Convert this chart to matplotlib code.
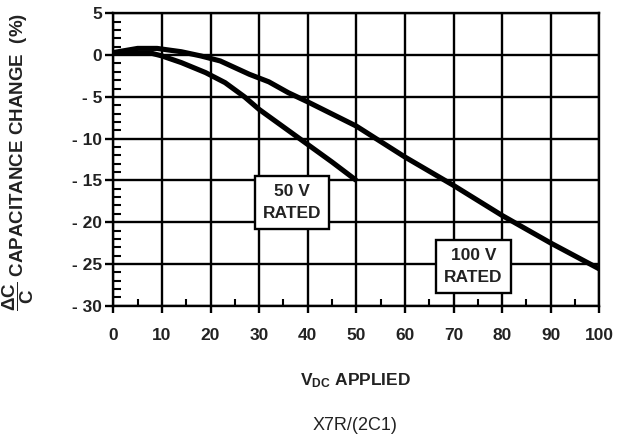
import numpy as np
import matplotlib
matplotlib.use("Agg")
import matplotlib.pyplot as plt
from matplotlib.ticker import FixedLocator, MultipleLocator

plt.rcParams['font.family'] = ['Liberation Sans', 'DejaVu Sans']
plt.rcParams['mathtext.fontset'] = 'custom'
plt.rcParams['mathtext.rm'] = 'Liberation Sans:bold'
plt.rcParams['mathtext.it'] = 'Liberation Sans:bold'
plt.rcParams['mathtext.bf'] = 'Liberation Sans:bold'

# данные
v_50 = [0, 8, 10, 14, 19, 23, 27, 30, 35, 40, 45, 50]
c_50 = [0.2, 0.2, -0.1, -0.9, -2.1, -3.3, -5.0, -6.5, -8.6, -10.7, -12.8, -15.0]

v_100 = [0, 5, 9, 14, 18, 22, 28, 32, 36, 40, 50, 60, 70, 80, 90, 100]
c_100 = [0.3, 0.8, 0.8, 0.4, -0.1, -0.7, -2.3, -3.2, -4.5, -5.6, -8.5, -12.2, -15.6, -19.2, -22.5, -25.6]

x_ticks = [0, 10, 20, 30, 40, 50, 60, 70, 80, 90, 100]
y_ticks = [5, 0, -5, -10, -15, -20, -25, -30]
y_labels = ["5", "0", "- 5", "- 10", "- 15", "- 20", "- 25", "- 30"]

fig = plt.figure(figsize=(6.38, 4.47), dpi=100)
ax = fig.add_axes([0.1776, 0.3161, 0.7618, 0.6541])

ax.plot(v_50, c_50, color="black", lw=3.7, solid_capstyle="butt", zorder=3)
ax.plot(v_100, c_100, color="black", lw=3.7, solid_capstyle="butt", zorder=3)

ax.set_xlim(0, 100)
ax.set_ylim(-30, 5)
ax.xaxis.set_major_locator(FixedLocator(x_ticks))
ax.yaxis.set_major_locator(FixedLocator(y_ticks))
ax.set_yticklabels(y_labels)
ax.xaxis.set_minor_locator(MultipleLocator(5))
ax.yaxis.set_minor_locator(MultipleLocator(1))
ax.grid(True, which="major", color="black", lw=1.7)

for s in ax.spines.values():
    s.set_linewidth(1.7)

ax.tick_params(axis="x", which="major", direction="out", length=5, width=1.7, pad=11,
               labelsize=12.5)
ax.tick_params(axis="x", which="minor", direction="in", length=5, width=1.5)
ax.tick_params(axis="y", which="major", direction="out", length=6, width=1.7, pad=2,
               labelsize=12.5)
ax.tick_params(axis="y", which="minor", direction="in", length=6, width=1.5)
for lab in ax.get_xticklabels() + ax.get_yticklabels():
    lab.set_fontweight("bold")
    lab.set_color("#222222")

ax.text(36.7, -17.6, "50 V\nRATED", ha="center", va="center", fontsize=12.5,
        fontweight="bold", color="#222222", linespacing=1.6, zorder=5,
        bbox=dict(boxstyle="square,pad=0.45", fc="white", ec="black", lw=1.7))
ax.text(74.1, -25.3, "100 V\nRATED", ha="center", va="center", fontsize=12.5,
        fontweight="bold", color="#222222", linespacing=1.6, zorder=5,
        bbox=dict(boxstyle="square,pad=0.45", fc="white", ec="black", lw=1.7))

ax.set_ylabel(r"$\dfrac{\Delta C}{C}$ CAPACITANCE CHANGE  (%)", fontsize=13.5,
              fontweight="bold", color="#222222")
ax.yaxis.set_label_coords(-0.16, 0.49)

fig.text(0.557, 1 - 381 / 447, r"V$_{\mathregular{DC}}$ APPLIED", ha="center", va="center",
         fontsize=12.5, fontweight="bold", color="#222222")
fig.text(0.557, 1 - 425 / 447, "X7R/(2C1)", ha="center", va="center",
         fontsize=13, color="#222222")

fig.savefig("out.png", dpi=100)
